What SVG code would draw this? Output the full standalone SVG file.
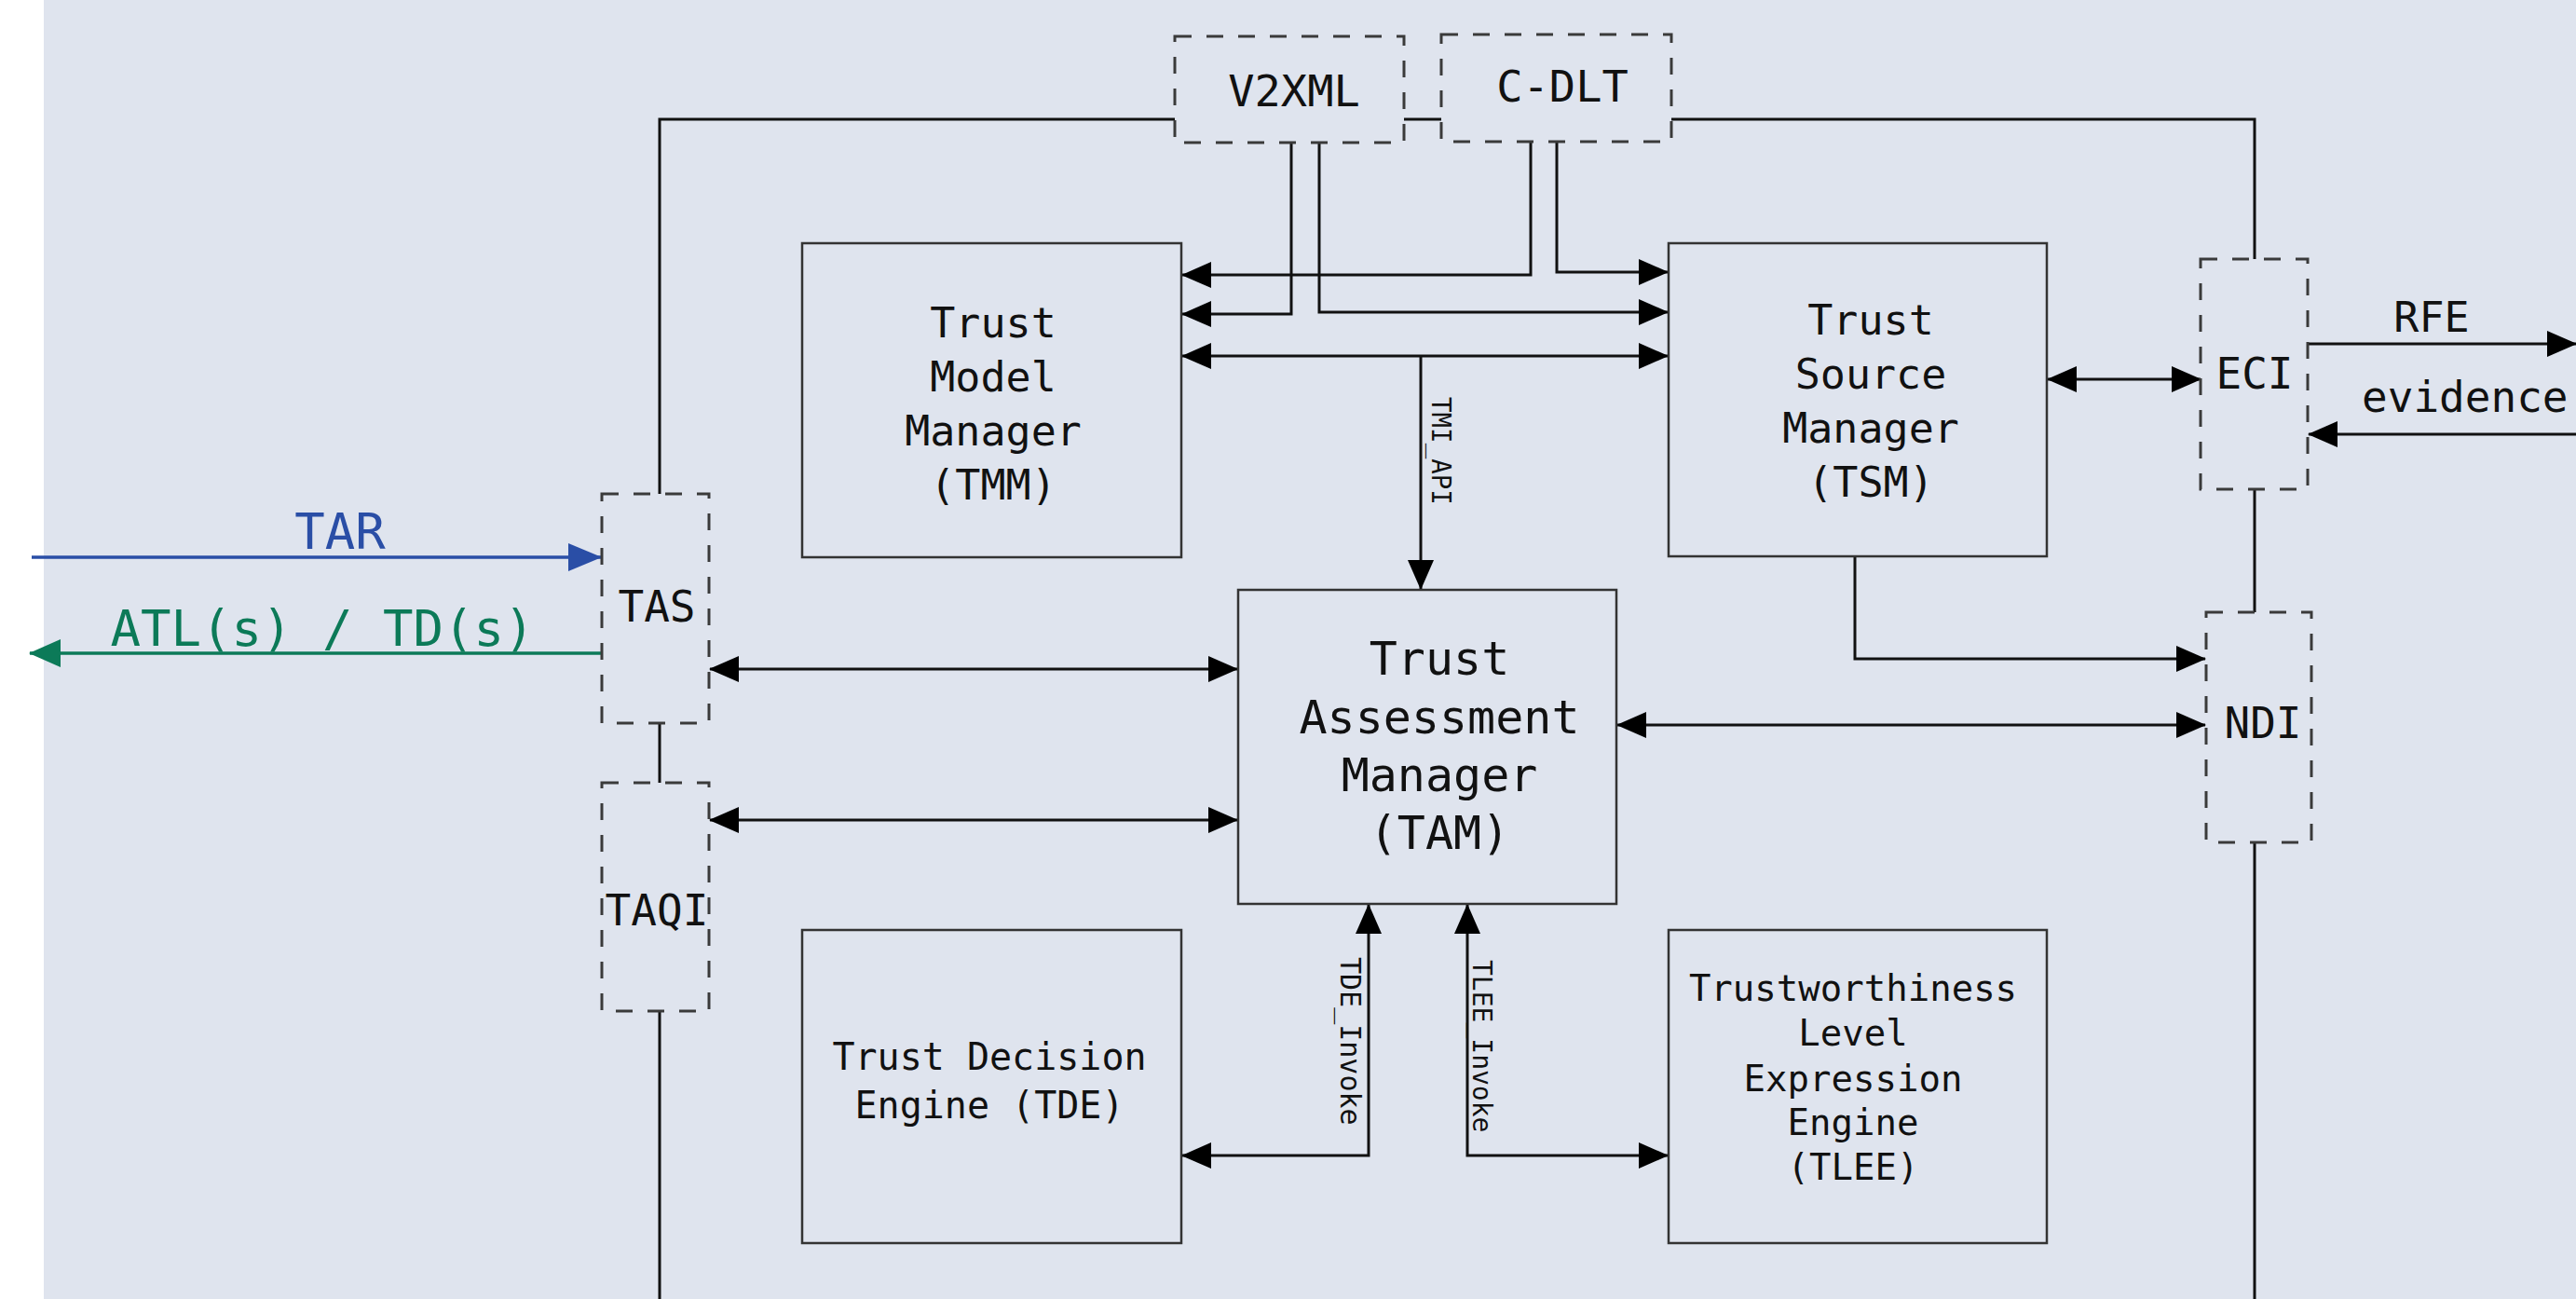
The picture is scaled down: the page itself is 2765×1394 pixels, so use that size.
<svg xmlns="http://www.w3.org/2000/svg" width="2765" height="1394" viewBox="0 0 2765 1394">
<defs>
<style>
.bg{fill:#dfe4ee}
.box{fill:none;stroke:#333;stroke-width:2.5}
.dbox{fill:none;stroke:#3a3a3a;stroke-width:3;stroke-dasharray:18 16}
.ln{fill:none;stroke:#111;stroke-width:3}
.arr{marker-end:url(#ah)}
.both{marker-start:url(#ah);marker-end:url(#ah)}
text{font-family:"DejaVu Sans Mono","Liberation Mono",monospace;fill:#111}
.c{text-anchor:middle}
</style>
<marker id="ah" viewBox="0 0 32 28" markerWidth="32" markerHeight="28" refX="31" refY="14" markerUnits="userSpaceOnUse" orient="auto-start-reverse"><path d="M0,0 L32,14 L0,28 z" fill="#000"/></marker>
<marker id="ahb" viewBox="0 0 36 30" markerWidth="36" markerHeight="30" refX="35" refY="15" markerUnits="userSpaceOnUse" orient="auto"><path d="M0,0 L36,15 L0,30 z" fill="#2a4ea6"/></marker>
<marker id="ahg" viewBox="0 0 34 30" markerWidth="34" markerHeight="30" refX="33" refY="15" markerUnits="userSpaceOnUse" orient="auto"><path d="M0,0 L34,15 L0,30 z" fill="#0c7a58"/></marker>
</defs>
<rect x="0" y="0" width="2765" height="1394" fill="#ffffff"/>
<rect class="bg" x="47" y="0" width="2718" height="1394"/>

<g id="connectors">
<path class="ln" d="M708,530 V128 H1261"/>
<path class="ln" d="M1507,128 H1547"/>
<path class="ln" d="M1794,128 H2420 V278"/>
<path class="ln" d="M708,776 V840"/>
<path class="ln" d="M708,1085 V1394"/>
<path class="ln" d="M2420,525 V657"/>
<path class="ln" d="M2420,904 V1394"/>
<path class="ln arr" d="M1386,153 V337 H1269"/>
<path class="ln arr" d="M1416,153 V335 H1790"/>
<path class="ln arr" d="M1643,152 V295 H1269"/>
<path class="ln arr" d="M1671,152 V292 H1790"/>
<path class="ln both" d="M1269,382 H1790"/>
<path class="ln arr" d="M1525,382 V632"/>
<path class="ln both" d="M2198,407 H2362"/>
<path class="ln arr" d="M2477,369 H2765"/>
<path class="ln arr" d="M2765,466 H2478"/>
<path class="ln arr" d="M1991,597 V707 H2367"/>
<path class="ln both" d="M762,718 H1328"/>
<path class="ln both" d="M762,880 H1328"/>
<path class="ln both" d="M1736,778 H2367"/>
<path class="ln both" d="M1269,1240 H1469 V971"/>
<path class="ln both" d="M1575,971 V1240 H1790"/>
<path d="M34,598 H645" fill="none" stroke="#2a4ea6" stroke-width="3.5" marker-end="url(#ahb)"/>
<path d="M645,701 H32" fill="none" stroke="#0c7a58" stroke-width="3.5" marker-end="url(#ahg)"/>
<text x="1537" y="426" font-size="27.5" transform="rotate(90 1537 426)">TMI_API</text>
<text x="1439" y="1027" font-size="30" transform="rotate(90 1439 1027)">TDE_Invoke</text>
<text x="1581" y="1030" font-size="28" transform="rotate(90 1581 1030)">TLEE_Invoke</text>
<text class="c" x="2610" y="356" font-size="45">RFE</text>
<text x="2535" y="442" font-size="46">evidence</text>
<text class="c" x="365" y="589" font-size="54" style="fill:#2a4ea6">TAR</text>
<text class="c" x="346" y="693" font-size="54" style="fill:#0c7a58">ATL(s) / TD(s)</text>
</g>

<g id="v2xml"><rect class="dbox" x="1261" y="39" width="246" height="114"/><text class="c" x="1389" y="114" font-size="47">V2XML</text></g>
<g id="cdlt"><rect class="dbox" x="1547" y="37" width="247" height="115"/><text class="c" x="1677" y="109" font-size="47">C-DLT</text></g>

<g id="tmm"><rect class="box" x="861" y="261" width="407" height="337"/>
<text class="c" x="1066" font-size="45"><tspan x="1066" y="362">Trust</tspan><tspan x="1066" y="420">Model</tspan><tspan x="1066" y="478">Manager</tspan><tspan x="1066" y="536">(TMM)</tspan></text></g>

<g id="tsm"><rect class="box" x="1791" y="261" width="406" height="336"/>
<text class="c" x="2008" font-size="45"><tspan x="2008" y="359">Trust</tspan><tspan x="2008" y="417">Source</tspan><tspan x="2008" y="475">Manager</tspan><tspan x="2008" y="533">(TSM)</tspan></text></g>

<g id="tam"><rect class="box" x="1329" y="633" width="406" height="337"/>
<text class="c" x="1545" font-size="50"><tspan x="1545" y="724">Trust</tspan><tspan x="1545" y="787">Assessment</tspan><tspan x="1545" y="849">Manager</tspan><tspan x="1545" y="911">(TAM)</tspan></text></g>

<g id="tde"><rect class="box" x="861" y="998" width="407" height="336"/>
<text class="c" x="1062" font-size="40"><tspan x="1062" y="1148">Trust Decision</tspan><tspan x="1062" y="1200">Engine (TDE)</tspan></text></g>

<g id="tlee"><rect class="box" x="1791" y="998" width="406" height="336"/>
<text class="c" x="1989" font-size="39"><tspan x="1989" y="1074">Trustworthiness</tspan><tspan x="1989" y="1122">Level</tspan><tspan x="1989" y="1171">Expression</tspan><tspan x="1989" y="1218">Engine</tspan><tspan x="1989" y="1266">(TLEE)</tspan></text></g>

<g id="tas"><rect class="dbox" x="646" y="530" width="115" height="246"/><text class="c" x="705" y="667" font-size="46">TAS</text></g>
<g id="taqi"><rect class="dbox" x="646" y="840" width="115" height="245"/><text class="c" x="705" y="993" font-size="46">TAQI</text></g>
<g id="eci"><rect class="dbox" x="2362" y="278" width="115" height="247"/><text class="c" x="2420" y="417" font-size="46">ECI</text></g>
<g id="ndi"><rect class="dbox" x="2368" y="657" width="113" height="247"/><text class="c" x="2429" y="792" font-size="46">NDI</text></g>
</svg>
